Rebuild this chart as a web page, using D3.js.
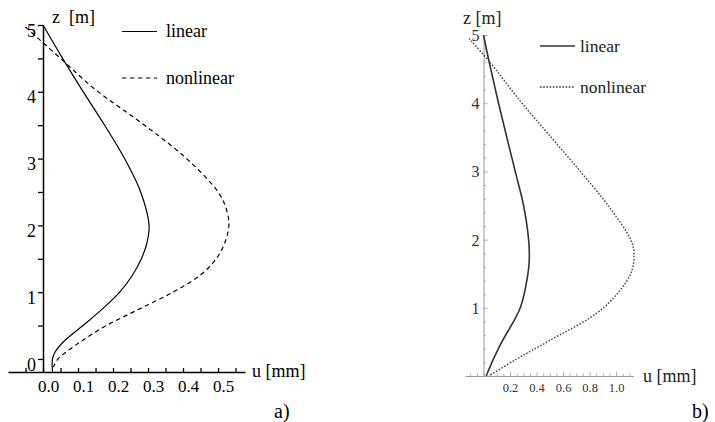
<!DOCTYPE html>
<html>
<head>
<meta charset="utf-8">
<script src="https://cdn.jsdelivr.net/npm/d3@7"></script>
<style>
  html, body { margin: 0; padding: 0; background: #fff; }
  svg { display: block; }
</style>
</head>
<body>
<svg id="chart" width="715" height="422"></svg>
<script>
// Panel a) — displacement profile u(z) along the pile
const aLinearZ    = [5, 4.5, 4.04, 3.5, 3.0, 2.5, 2.0, 1.74, 1.5, 1.25, 1.0, 0.75, 0.5, 0.25, 0.09, 0.0, -0.19];
const aLinearU    = [0, 0.056, 0.11, 0.176, 0.233, 0.279, 0.303, 0.297, 0.281, 0.255, 0.219, 0.17, 0.114, 0.057, 0.033, 0.027, 0.027];
const aNonlinZ    = [4.97, 4.5, 4.04, 3.5, 3.0, 2.5, 2.24, 2.0, 1.75, 1.5, 1.25, 1.0, 0.75, 0.5, 0.25, 0.0, -0.12];
const aNonlinU    = [-0.05, 0.05, 0.148, 0.29, 0.41, 0.50, 0.524, 0.531, 0.52, 0.495, 0.448, 0.371, 0.276, 0.181, 0.105, 0.043, 0.03];
const aUTicks     = [0.0, 0.1, 0.2, 0.3, 0.4, 0.5];
const aZTicks     = [0, 1, 2, 3, 4, 5];

// Panel b)
const bLinearZ    = [5, 4.58, 4.0, 3.0, 2.5, 2.0, 1.7, 1.5, 1.0, 0.5, 0.25, 0.0];
const bLinearU    = [0, 0.045, 0.113, 0.239, 0.302, 0.34, 0.345, 0.335, 0.277, 0.138, 0.075, 0.02];
const bNonlinZ    = [4.95, 4.62, 4.0, 3.5, 3.0, 2.5, 2.0, 1.8, 1.5, 1.0, 0.5, 0.25, 0.0];
const bNonlinU    = [-0.11, 0.04, 0.29, 0.51, 0.73, 0.94, 1.11, 1.135, 1.11, 0.905, 0.48, 0.25, 0.04];
const bUTicks     = [0.2, 0.4, 0.6, 0.8, 1.0];
const bZTicks     = [1, 2, 3, 4, 5];

const seriesNames = ["linear", "nonlinear"];

const FONT = "Liberation Serif";
const svg = d3.select("#chart");
const fmt1 = d3.format(".1f");
const zip = (zs, us) => zs.map((z, i) => ({ z, u: us[i] }));
const range = (a, b, s) => d3.range(Math.round((b - a) / s) + 1).map(i => +(a + i * s).toFixed(4));
const label = (g, x, y, size, str, fill = "#000") =>
  g.append("text").attr("x", x).attr("y", y).attr("font-family", FONT)
    .attr("font-size", size).attr("fill", fill).attr("xml:space", "preserve").text(str);

// ---------- panel a ----------
{
  const x = d3.scaleLinear().domain([-0.1, 0.577]).range([8, 245]);
  const y = d3.scaleLinear().domain([-0.195, 5]).range([372, 25]);
  const g = svg.append("g");

  const xAxis = d3.axisBottom(x)
    .tickValues(range(-0.05, 0.55, 0.05))
    .tickSizeInner(-4).tickSizeOuter(0).tickPadding(8)
    .tickFormat(d => aUTicks.some(t => Math.abs(t - d) < 1e-6) ? fmt1(d) : "");
  const gx = g.append("g").attr("transform", `translate(0,${y(-0.195)})`).call(xAxis);
  gx.attr("font-family", FONT);
  gx.select(".domain").attr("stroke", "#000").attr("stroke-width", 1.5);
  gx.selectAll(".tick line").attr("stroke", "#000").attr("stroke-width", 1.3);
  gx.selectAll(".tick text").attr("font-family", FONT).attr("font-size", 17).attr("fill", "#000")
    .attr("dx", 5).attr("dy", "0.72em");

  const yAxis = d3.axisLeft(y)
    .tickValues(range(0, 5, 0.5))
    .tickSizeInner(5).tickSizeOuter(0).tickPadding(2)
    .tickFormat(d => aZTicks.includes(d) ? String(d) : "");
  const gy = g.append("g").attr("transform", `translate(${x(0)},0)`).call(yAxis);
  gy.attr("font-family", FONT);
  gy.select(".domain").attr("stroke", "#000").attr("stroke-width", 1.5);
  gy.selectAll(".tick line").attr("stroke", "#000").attr("stroke-width", 1.3);
  gy.selectAll(".tick text").attr("font-family", FONT).attr("font-size", 18).attr("fill", "#000")
    .attr("dy", "0.62em");

  const line = d3.line().x(d => x(d.u)).y(d => y(d.z)).curve(d3.curveCatmullRom.alpha(0.5));
  g.append("path").datum(zip(aLinearZ, aLinearU)).attr("d", line)
    .attr("fill", "none").attr("stroke", "#000").attr("stroke-width", 1.2);
  g.append("path").datum(zip(aNonlinZ, aNonlinU)).attr("d", line)
    .attr("fill", "none").attr("stroke", "#000").attr("stroke-width", 1.2)
    .attr("stroke-dasharray", "4.5,3.5");

  label(g, 52, 23, 18, "z  [m]");
  label(g, 252, 377, 18, "u [mm]");
  label(g, 274, 418, 20, "a)");

  // legend
  const leg = [{ y: 31.5, dash: null }, { y: 78, dash: "4.5,3.5" }];
  leg.forEach((l, i) => {
    g.append("line").attr("x1", 122).attr("x2", 157).attr("y1", l.y).attr("y2", l.y)
      .attr("stroke", "#000").attr("stroke-width", 1.2).attr("stroke-dasharray", l.dash);
    label(g, 166, l.y + 5.5, 18, seriesNames[i]);
  });
}

// ---------- panel b ----------
{
  const x = d3.scaleLinear().domain([-0.14, 1.13]).range([465, 633.3]);
  const y = d3.scaleLinear().domain([0, 5]).range([376, 35]);
  const g = svg.append("g");
  const axisGrey = "#999";

  const xAxis = d3.axisBottom(x)
    .tickValues(range(-0.1, 1.1, 0.05))
    .tickSizeInner(-2.5).tickSizeOuter(0).tickPadding(7)
    .tickFormat(d => bUTicks.some(t => Math.abs(t - d) < 1e-6) ? fmt1(d) : "");
  const gx = g.append("g").attr("transform", `translate(0,${y(0)})`).call(xAxis);
  gx.attr("font-family", FONT);
  gx.select(".domain").attr("stroke", axisGrey).attr("stroke-width", 1);
  gx.selectAll(".tick line").attr("stroke", axisGrey).attr("stroke-width", 0.8)
    .attr("y2", d => bUTicks.some(t => Math.abs(t - d) < 1e-6) ? -4 : -2.5);
  gx.selectAll(".tick text").attr("font-family", FONT).attr("font-size", 12.5).attr("fill", "#333")
    .attr("dy", "0.72em");

  const yAxis = d3.axisLeft(y)
    .tickValues(range(0.2, 5, 0.2))
    .tickSizeInner(-2.5).tickSizeOuter(0).tickPadding(4)
    .tickFormat(d => bZTicks.some(t => Math.abs(t - d) < 1e-6) ? String(Math.round(d)) : "");
  const gy = g.append("g").attr("transform", `translate(${x(0)},0)`).call(yAxis);
  gy.attr("font-family", FONT);
  gy.select(".domain").attr("stroke", axisGrey).attr("stroke-width", 1);
  gy.selectAll(".tick line").attr("stroke", axisGrey).attr("stroke-width", 0.8)
    .attr("x2", d => bZTicks.some(t => Math.abs(t - d) < 1e-6) ? 4 : 2.5);
  gy.selectAll(".tick text").attr("font-family", FONT).attr("font-size", 16).attr("fill", "#333")
    .attr("dy", "0.34em");

  const line = d3.line().x(d => x(d.u)).y(d => y(d.z)).curve(d3.curveCatmullRom.alpha(0.5));
  g.append("path").datum(zip(bLinearZ, bLinearU)).attr("d", line)
    .attr("fill", "none").attr("stroke", "#333").attr("stroke-width", 1.6);
  g.append("path").datum(zip(bNonlinZ, bNonlinU)).attr("d", line)
    .attr("fill", "none").attr("stroke", "#444").attr("stroke-width", 1.4)
    .attr("stroke-dasharray", "1.6,1.6");

  label(g, 463, 24, 18, "z [m]", "#222");
  label(g, 643, 382, 18, "u [mm]", "#222");
  label(g, 692, 418, 20, "b)");

  const leg = [{ y: 46, dash: null, w: 1.6 }, { y: 87, dash: "1.6,1.6", w: 1.4 }];
  leg.forEach((l, i) => {
    g.append("line").attr("x1", 540).attr("x2", 575).attr("y1", l.y).attr("y2", l.y)
      .attr("stroke", "#333").attr("stroke-width", l.w).attr("stroke-dasharray", l.dash);
    label(g, 580, l.y + 5.5, 17.5, seriesNames[i], "#222");
  });
}
</script>
</body>
</html>
